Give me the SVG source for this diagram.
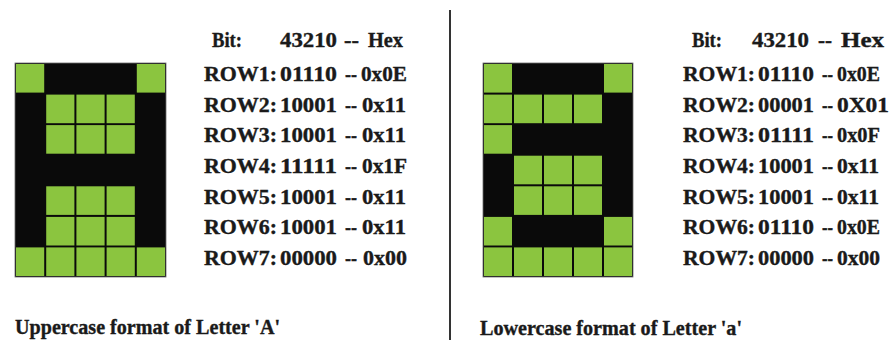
<svg xmlns="http://www.w3.org/2000/svg" width="890" height="340" viewBox="0 0 890 340">
<style>
.bg{fill:#0a0a0a;stroke:#6a6a6a;stroke-width:0.8}
.g{fill:#8bc53f}
.t{font-family:'Liberation Serif','Times New Roman',Times,serif;font-weight:700;font-size:20px;fill:#1a1a1a;stroke:#1a1a1a;stroke-width:0.35}
.c{font-family:'Liberation Serif','Times New Roman',Times,serif;font-weight:700;font-size:20px;fill:#1a1a1a;stroke:#1a1a1a;stroke-width:0.35}
</style>
<rect width="890" height="340" fill="#ffffff"/>
<g id="divider"><line x1="450" y1="10" x2="450" y2="340" stroke="#333" stroke-width="2"/></g>
<g id="grid-upper-A">
<rect class="bg" x="15" y="63" width="151" height="214"/>
<rect class="g" x="16" y="64" width="28.2" height="28.6"/><rect class="g" x="136.8" y="64" width="28.2" height="28.6"/>
<rect class="g" x="46.2" y="94.6" width="28.2" height="28.6"/><rect class="g" x="76.4" y="94.6" width="28.2" height="28.6"/><rect class="g" x="106.6" y="94.6" width="28.2" height="28.6"/>
<rect class="g" x="46.2" y="125.1" width="28.2" height="28.6"/><rect class="g" x="76.4" y="125.1" width="28.2" height="28.6"/><rect class="g" x="106.6" y="125.1" width="28.2" height="28.6"/>
<rect class="g" x="46.2" y="186.3" width="28.2" height="28.6"/><rect class="g" x="76.4" y="186.3" width="28.2" height="28.6"/><rect class="g" x="106.6" y="186.3" width="28.2" height="28.6"/>
<rect class="g" x="46.2" y="216.9" width="28.2" height="28.6"/><rect class="g" x="76.4" y="216.9" width="28.2" height="28.6"/><rect class="g" x="106.6" y="216.9" width="28.2" height="28.6"/>
<rect class="g" x="16" y="247.4" width="28.2" height="28.6"/><rect class="g" x="46.2" y="247.4" width="28.2" height="28.6"/><rect class="g" x="76.4" y="247.4" width="28.2" height="28.6"/><rect class="g" x="106.6" y="247.4" width="28.2" height="28.6"/><rect class="g" x="136.8" y="247.4" width="28.2" height="28.6"/>
</g>
<g id="table-upper-A">
<text class="t" x="212" y="47" textLength="30" lengthAdjust="spacingAndGlyphs">Bit:</text>
<text class="t" x="280" y="47" textLength="57" lengthAdjust="spacingAndGlyphs">43210</text>
<text class="t" x="344" y="47" textLength="15" lengthAdjust="spacingAndGlyphs">--</text>
<text class="t" x="368" y="47" textLength="35" lengthAdjust="spacingAndGlyphs">Hex</text>

<text class="t" x="204" y="81" textLength="73" lengthAdjust="spacingAndGlyphs">ROW1:</text>
<text class="t" x="280" y="81" textLength="57" lengthAdjust="spacingAndGlyphs">01110</text>
<text class="t" x="345" y="81" textLength="12" lengthAdjust="spacingAndGlyphs">--</text>
<text class="t" x="361" y="81" textLength="46" lengthAdjust="spacingAndGlyphs">0x0E</text>

<text class="t" x="204" y="111.7" textLength="73" lengthAdjust="spacingAndGlyphs">ROW2:</text>
<text class="t" x="280" y="111.7" textLength="57" lengthAdjust="spacingAndGlyphs">10001</text>
<text class="t" x="345" y="111.7" textLength="12" lengthAdjust="spacingAndGlyphs">--</text>
<text class="t" x="362" y="111.7" textLength="44" lengthAdjust="spacingAndGlyphs">0x11</text>

<text class="t" x="204" y="142.3" textLength="73" lengthAdjust="spacingAndGlyphs">ROW3:</text>
<text class="t" x="280" y="142.3" textLength="57" lengthAdjust="spacingAndGlyphs">10001</text>
<text class="t" x="345" y="142.3" textLength="12" lengthAdjust="spacingAndGlyphs">--</text>
<text class="t" x="362" y="142.3" textLength="44" lengthAdjust="spacingAndGlyphs">0x11</text>

<text class="t" x="204" y="173" textLength="73" lengthAdjust="spacingAndGlyphs">ROW4:</text>
<text class="t" x="280" y="173" textLength="57" lengthAdjust="spacingAndGlyphs">11111</text>
<text class="t" x="345" y="173" textLength="12" lengthAdjust="spacingAndGlyphs">--</text>
<text class="t" x="362" y="173" textLength="45" lengthAdjust="spacingAndGlyphs">0x1F</text>

<text class="t" x="204" y="203.7" textLength="73" lengthAdjust="spacingAndGlyphs">ROW5:</text>
<text class="t" x="280" y="203.7" textLength="57" lengthAdjust="spacingAndGlyphs">10001</text>
<text class="t" x="345" y="203.7" textLength="12" lengthAdjust="spacingAndGlyphs">--</text>
<text class="t" x="362" y="203.7" textLength="44" lengthAdjust="spacingAndGlyphs">0x11</text>

<text class="t" x="204" y="234.3" textLength="73" lengthAdjust="spacingAndGlyphs">ROW6:</text>
<text class="t" x="280" y="234.3" textLength="57" lengthAdjust="spacingAndGlyphs">10001</text>
<text class="t" x="345" y="234.3" textLength="12" lengthAdjust="spacingAndGlyphs">--</text>
<text class="t" x="362" y="234.3" textLength="44" lengthAdjust="spacingAndGlyphs">0x11</text>

<text class="t" x="204" y="265" textLength="73" lengthAdjust="spacingAndGlyphs">ROW7:</text>
<text class="t" x="280" y="265" textLength="57" lengthAdjust="spacingAndGlyphs">00000</text>
<text class="t" x="345" y="265" textLength="12" lengthAdjust="spacingAndGlyphs">--</text>
<text class="t" x="363" y="265" textLength="44" lengthAdjust="spacingAndGlyphs">0x00</text>
</g>
<g id="caption-upper-A">
<text class="c" x="15" y="334" textLength="265" lengthAdjust="spacingAndGlyphs">Uppercase format of Letter 'A'</text>
</g>

<g id="grid-lower-a">
<rect class="bg" x="483" y="63" width="150" height="214"/>
<rect class="g" x="484" y="64" width="28" height="28.6"/><rect class="g" x="604" y="64" width="28" height="28.6"/>
<rect class="g" x="484" y="94.6" width="28" height="28.6"/><rect class="g" x="514" y="94.6" width="28" height="28.6"/><rect class="g" x="544" y="94.6" width="28" height="28.6"/><rect class="g" x="574" y="94.6" width="28" height="28.6"/>
<rect class="g" x="484" y="125.1" width="28" height="28.6"/>
<rect class="g" x="514" y="155.7" width="28" height="28.6"/><rect class="g" x="544" y="155.7" width="28" height="28.6"/><rect class="g" x="574" y="155.7" width="28" height="28.6"/>
<rect class="g" x="514" y="186.3" width="28" height="28.6"/><rect class="g" x="544" y="186.3" width="28" height="28.6"/><rect class="g" x="574" y="186.3" width="28" height="28.6"/>
<rect class="g" x="484" y="216.9" width="28" height="28.6"/><rect class="g" x="604" y="216.9" width="28" height="28.6"/>
<rect class="g" x="484" y="247.4" width="28" height="28.6"/><rect class="g" x="514" y="247.4" width="28" height="28.6"/><rect class="g" x="544" y="247.4" width="28" height="28.6"/><rect class="g" x="574" y="247.4" width="28" height="28.6"/><rect class="g" x="604" y="247.4" width="28" height="28.6"/>
</g>
<g id="table-lower-a">
<text class="t" x="692" y="47" textLength="30" lengthAdjust="spacingAndGlyphs">Bit:</text>
<text class="t" x="752" y="47" textLength="57" lengthAdjust="spacingAndGlyphs">43210</text>
<text class="t" x="818" y="47" textLength="14" lengthAdjust="spacingAndGlyphs">--</text>
<text class="t" x="841" y="47" textLength="43" lengthAdjust="spacingAndGlyphs">Hex</text>

<text class="t" x="683" y="81" textLength="72" lengthAdjust="spacingAndGlyphs">ROW1:</text>
<text class="t" x="758" y="81" textLength="56" lengthAdjust="spacingAndGlyphs">01110</text>
<text class="t" x="822" y="81" textLength="11" lengthAdjust="spacingAndGlyphs">--</text>
<text class="t" x="837" y="81" textLength="43" lengthAdjust="spacingAndGlyphs">0x0E</text>

<text class="t" x="683" y="111.7" textLength="72" lengthAdjust="spacingAndGlyphs">ROW2:</text>
<text class="t" x="758" y="111.7" textLength="56" lengthAdjust="spacingAndGlyphs">00001</text>
<text class="t" x="822" y="111.7" textLength="11" lengthAdjust="spacingAndGlyphs">--</text>
<text class="t" x="837" y="111.7" textLength="52" lengthAdjust="spacingAndGlyphs">0X01</text>

<text class="t" x="683" y="142.3" textLength="72" lengthAdjust="spacingAndGlyphs">ROW3:</text>
<text class="t" x="758" y="142.3" textLength="56" lengthAdjust="spacingAndGlyphs">01111</text>
<text class="t" x="822" y="142.3" textLength="11" lengthAdjust="spacingAndGlyphs">--</text>
<text class="t" x="837" y="142.3" textLength="43" lengthAdjust="spacingAndGlyphs">0x0F</text>

<text class="t" x="683" y="173" textLength="72" lengthAdjust="spacingAndGlyphs">ROW4:</text>
<text class="t" x="758" y="173" textLength="56" lengthAdjust="spacingAndGlyphs">10001</text>
<text class="t" x="822" y="173" textLength="11" lengthAdjust="spacingAndGlyphs">--</text>
<text class="t" x="837" y="173" textLength="42" lengthAdjust="spacingAndGlyphs">0x11</text>

<text class="t" x="683" y="203.7" textLength="72" lengthAdjust="spacingAndGlyphs">ROW5:</text>
<text class="t" x="758" y="203.7" textLength="56" lengthAdjust="spacingAndGlyphs">10001</text>
<text class="t" x="822" y="203.7" textLength="11" lengthAdjust="spacingAndGlyphs">--</text>
<text class="t" x="837" y="203.7" textLength="42" lengthAdjust="spacingAndGlyphs">0x11</text>

<text class="t" x="683" y="234.3" textLength="72" lengthAdjust="spacingAndGlyphs">ROW6:</text>
<text class="t" x="758" y="234.3" textLength="56" lengthAdjust="spacingAndGlyphs">01110</text>
<text class="t" x="822" y="234.3" textLength="11" lengthAdjust="spacingAndGlyphs">--</text>
<text class="t" x="837" y="234.3" textLength="43" lengthAdjust="spacingAndGlyphs">0x0E</text>

<text class="t" x="683" y="265" textLength="72" lengthAdjust="spacingAndGlyphs">ROW7:</text>
<text class="t" x="758" y="265" textLength="56" lengthAdjust="spacingAndGlyphs">00000</text>
<text class="t" x="822" y="265" textLength="11" lengthAdjust="spacingAndGlyphs">--</text>
<text class="t" x="837" y="265" textLength="43" lengthAdjust="spacingAndGlyphs">0x00</text>
</g>
<g id="caption-lower-a">
<text class="c" x="480" y="335" textLength="262" lengthAdjust="spacingAndGlyphs">Lowercase format of Letter 'a'</text>
</g>
</svg>
